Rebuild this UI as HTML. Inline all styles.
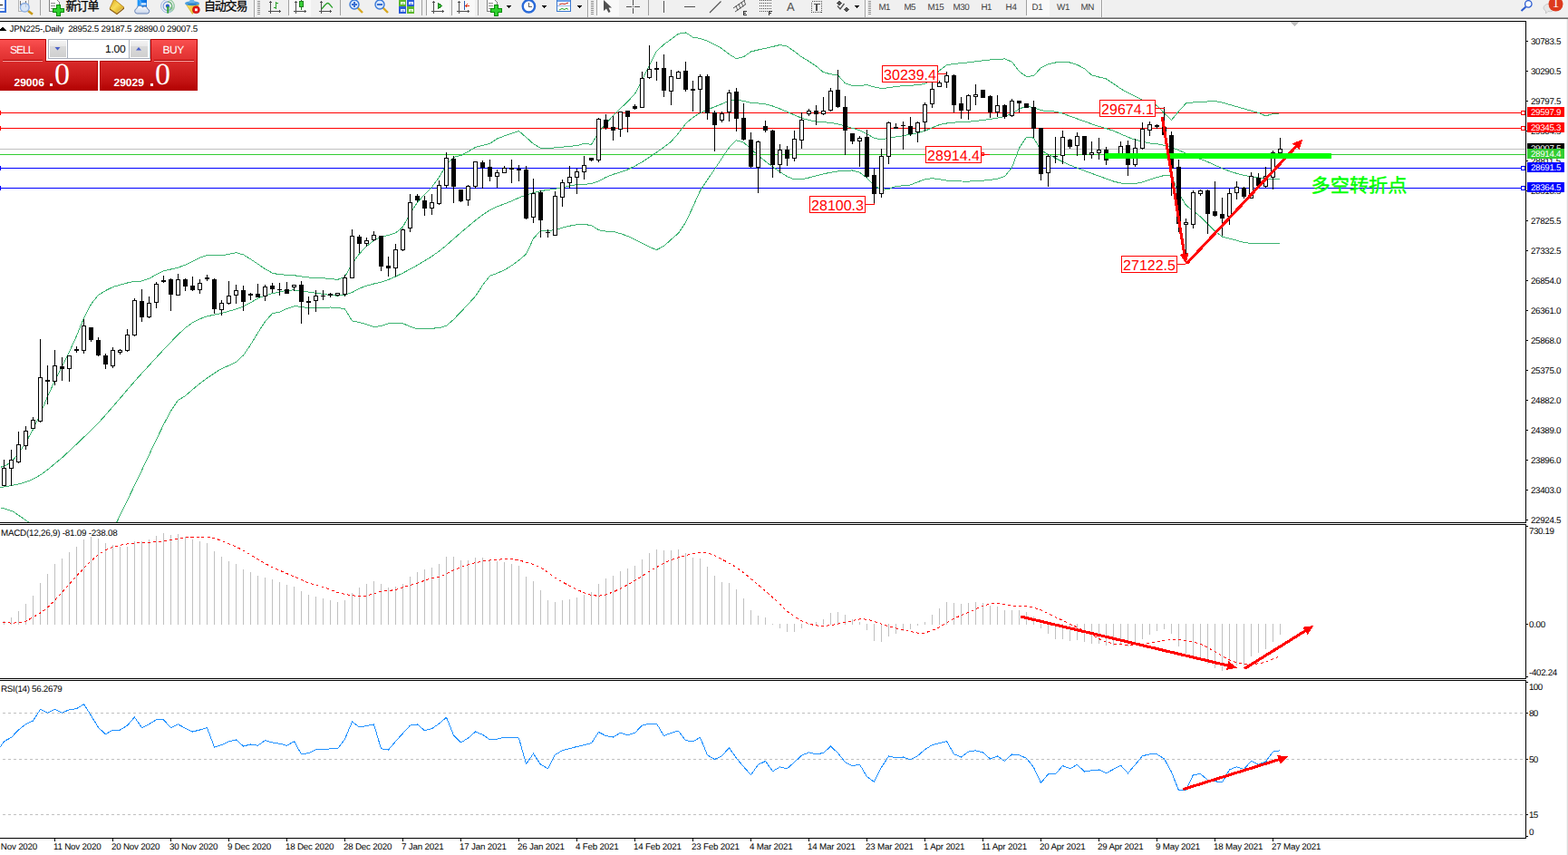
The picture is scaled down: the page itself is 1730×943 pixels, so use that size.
<!DOCTYPE html>
<html><head><meta charset="utf-8"><title>JPN225 Daily</title>
<style>
html,body{margin:0;padding:0;background:#fff;}
body{width:1730px;height:943px;overflow:hidden;position:relative;font-family:"Liberation Sans",sans-serif;}
.abs{position:absolute;left:0;top:0;}
.t{position:absolute;white-space:nowrap;font-family:"Liberation Sans",sans-serif;text-rendering:geometricPrecision;}
.title{letter-spacing:0px;}
</style></head><body>
<svg class="abs" width="1730" height="943" viewBox="0 0 1730 943" shape-rendering="crispEdges"><defs><clipPath id="mainclip"><rect x="0" y="24" width="1683" height="552"/></clipPath></defs><g fill="#000"><rect x="0" y="23" width="1684" height="1"/><rect x="0" y="576" width="1684" height="1"/><rect x="0" y="578" width="1684" height="1"/><rect x="0" y="748" width="1684" height="1"/><rect x="0" y="750" width="1684" height="1"/><rect x="0" y="924" width="1684" height="1"/><rect x="1683" y="23" width="1" height="554"/><rect x="1683" y="578" width="1" height="171"/><rect x="1683" y="750" width="1" height="175"/><rect x="1684" y="45" width="2" height="1"/><rect x="1684" y="78" width="2" height="1"/><rect x="1684" y="111" width="2" height="1"/><rect x="1684" y="144" width="2" height="1"/><rect x="1684" y="177" width="2" height="1"/><rect x="1684" y="210" width="2" height="1"/><rect x="1684" y="243" width="2" height="1"/><rect x="1684" y="276" width="2" height="1"/><rect x="1684" y="309" width="2" height="1"/><rect x="1684" y="342" width="2" height="1"/><rect x="1684" y="375" width="2" height="1"/><rect x="1684" y="408" width="2" height="1"/><rect x="1684" y="441" width="2" height="1"/><rect x="1684" y="474" width="2" height="1"/><rect x="1684" y="507" width="2" height="1"/><rect x="1684" y="540" width="2" height="1"/><rect x="1684" y="573" width="2" height="1"/><rect x="1684" y="580" width="2" height="1"/><rect x="1684" y="688" width="2" height="1"/><rect x="1684" y="746" width="2" height="1"/><rect x="1684" y="752" width="2" height="1"/><rect x="1684" y="786" width="2" height="1"/><rect x="1684" y="837" width="2" height="1"/><rect x="1684" y="898" width="2" height="1"/><rect x="1684" y="922" width="2" height="1"/><rect x="60" y="925" width="1" height="3"/><rect x="124" y="925" width="1" height="3"/><rect x="188" y="925" width="1" height="3"/><rect x="252" y="925" width="1" height="3"/><rect x="316" y="925" width="1" height="3"/><rect x="380" y="925" width="1" height="3"/><rect x="444" y="925" width="1" height="3"/><rect x="508" y="925" width="1" height="3"/><rect x="572" y="925" width="1" height="3"/><rect x="636" y="925" width="1" height="3"/><rect x="700" y="925" width="1" height="3"/><rect x="764" y="925" width="1" height="3"/><rect x="828" y="925" width="1" height="3"/><rect x="892" y="925" width="1" height="3"/><rect x="956" y="925" width="1" height="3"/><rect x="1020" y="925" width="1" height="3"/><rect x="1084" y="925" width="1" height="3"/><rect x="1148" y="925" width="1" height="3"/><rect x="1212" y="925" width="1" height="3"/><rect x="1276" y="925" width="1" height="3"/><rect x="1340" y="925" width="1" height="3"/><rect x="1404" y="925" width="1" height="3"/></g><path d="M1423 24 L1433 24 L1428 29 Z" fill="#c0c0c0"/><rect x="0" y="124" width="1683" height="1" fill="#ff0000"/><rect x="0" y="141" width="1683" height="1" fill="#ff0000"/><rect x="0" y="164" width="1683" height="1" fill="#c0c0c0"/><rect x="0" y="170" width="1683" height="1" fill="#32cd32"/><rect x="0" y="185" width="1683" height="1" fill="#0000ff"/><rect x="0" y="207" width="1683" height="1" fill="#0000ff"/><rect x="0" y="122" width="1" height="5" fill="#ff0000"/><rect x="1678.5" y="122.5" width="4" height="4" fill="#fff" stroke="#ff0000" stroke-width="1"/><rect x="0" y="139" width="1" height="5" fill="#ff0000"/><rect x="1678.5" y="139.5" width="4" height="4" fill="#fff" stroke="#ff0000" stroke-width="1"/><rect x="0" y="183" width="1" height="5" fill="#0000ff"/><rect x="1678.5" y="183.5" width="4" height="4" fill="#fff" stroke="#0000ff" stroke-width="1"/><rect x="0" y="205" width="1" height="5" fill="#0000ff"/><rect x="1678.5" y="205.5" width="4" height="4" fill="#fff" stroke="#0000ff" stroke-width="1"/><g clip-path="url(#mainclip)"><polyline points="0.5,515.2 4.5,514.4 12.5,509.6 20.5,500 28.5,488 36.5,473.5 44.5,456.3 52.5,437.4 60.5,419.8 68.5,403.9 76.5,388.1 84.5,370.4 92.5,350.9 100.5,335.5 108.5,325.4 116.5,320.5 124.5,316.6 132.5,314.1 140.5,312 148.5,310.3 156.5,310 164.5,307.3 172.5,302.7 180.5,298.9 188.5,297 196.5,295.2 204.5,292.1 212.5,288.1 220.5,284.2 228.5,281.6 236.5,281.3 244.5,281.8 252.5,280.3 260.5,278.7 268.5,280.9 276.5,285.8 284.5,291.2 292.5,296.6 300.5,301.2 308.5,302.8 316.5,303.2 324.5,303.7 332.5,304.9 340.5,306 348.5,306.5 356.5,306.8 364.5,307.5 372.5,308.4 380.5,305.3 388.5,290.8 396.5,279.9 404.5,271.6 412.5,265.3 420.5,261 428.5,259.5 436.5,256.9 444.5,250.3 452.5,235.4 460.5,223.2 468.5,214.5 476.5,206.4 484.5,195.4 492.5,181.9 500.5,173.3 508.5,171.5 516.5,167.1 524.5,162.5 532.5,160.4 540.5,158.5 548.5,153 556.5,149.9 564.5,147.3 572.5,144.5 580.5,151.5 588.5,158.6 596.5,163.4 604.5,163.4 612.5,162.9 620.5,162.2 628.5,161.4 636.5,160.6 644.5,158.4 652.5,159.3 660.5,146.2 668.5,136 676.5,127.7 684.5,119.7 692.5,112 700.5,103.6 708.5,88.1 716.5,71.8 724.5,56.4 732.5,49.1 740.5,43.2 748.5,37.2 756.5,36 764.5,41.1 772.5,42.5 780.5,45.1 788.5,49.1 796.5,53.6 804.5,59.9 812.5,64.7 820.5,62.7 828.5,57 836.5,55 844.5,53.4 852.5,51.5 860.5,49.5 868.5,51.1 876.5,56.8 884.5,62.9 892.5,67.6 900.5,73 908.5,79.7 916.5,81.8 924.5,82.9 932.5,91.9 940.5,94.6 948.5,94.5 956.5,93.6 964.5,95.9 972.5,97.6 980.5,96.7 988.5,95.5 996.5,94.7 1004.5,94.2 1012.5,93.8 1020.5,92.4 1028.5,87.1 1036.5,77.7 1044.5,71.7 1052.5,70.4 1060.5,69.7 1068.5,68.8 1076.5,67.8 1084.5,66.8 1092.5,66 1100.5,65.8 1108.5,64.8 1116.5,68.3 1124.5,78.8 1132.5,84.4 1140.5,83.7 1148.5,74.7 1156.5,70.8 1164.5,69 1172.5,68.4 1180.5,69 1188.5,71.4 1196.5,75.8 1204.5,82.8 1212.5,85 1220.5,86.9 1228.5,92.3 1236.5,97.9 1244.5,102.3 1252.5,106.4 1260.5,110.3 1268.5,113 1276.5,116.4 1284.5,124.9 1292.5,132.4 1300.5,122.8 1308.5,114 1316.5,112.9 1324.5,113 1332.5,111.9 1340.5,111.4 1348.5,113.1 1356.5,115.4 1364.5,117.7 1372.5,119.9 1380.5,122.2 1388.5,124.4 1396.5,127.9 1404.5,125.5 1411.5,125.7" fill="none" stroke="#3cb371" stroke-width="1" /><polyline points="0.5,537.5 4.5,537 12.5,535.6 20.5,533.9 28.5,531.7 36.5,528.5 44.5,523.9 52.5,518 60.5,511.5 68.5,504.8 76.5,497.4 84.5,489.9 92.5,482.2 100.5,474.5 108.5,466.6 116.5,457.7 124.5,448.5 132.5,439.3 140.5,429.9 148.5,420.6 156.5,411.7 164.5,403 172.5,394.3 180.5,385.7 188.5,377.3 196.5,369 204.5,361.6 212.5,355.9 220.5,351.7 228.5,348.9 236.5,347.1 244.5,345.5 252.5,343.3 260.5,340.8 268.5,338 276.5,333.8 284.5,329.2 292.5,325.9 300.5,323.7 308.5,321.9 316.5,320.3 324.5,319.9 332.5,321 340.5,322.1 348.5,323.3 356.5,324.4 364.5,325.5 372.5,326.2 380.5,325.4 388.5,322.5 396.5,318.2 404.5,315.1 412.5,313 420.5,311.1 428.5,308.4 436.5,305 444.5,301.1 452.5,296.9 460.5,292.5 468.5,287.7 476.5,282.7 484.5,277 492.5,270.6 500.5,263.5 508.5,256.5 516.5,249.7 524.5,243.1 532.5,236.9 540.5,231.7 548.5,227.8 556.5,224.9 564.5,221.7 572.5,218.1 580.5,215 588.5,212.5 596.5,210.6 604.5,209.4 612.5,208.3 620.5,206.9 628.5,205.1 636.5,203.6 644.5,203.3 652.5,202.7 660.5,199.8 668.5,195.5 676.5,192.3 684.5,189.9 692.5,187 700.5,183.1 708.5,178.6 716.5,173.4 724.5,168 732.5,162.4 740.5,156.2 748.5,147 756.5,136.4 764.5,129.6 772.5,124.5 780.5,121 788.5,117.8 796.5,114.6 804.5,111.2 812.5,109.9 820.5,111.4 828.5,113.3 836.5,114 844.5,114.9 852.5,117 860.5,120 868.5,123.3 876.5,126.9 884.5,130.2 892.5,132.5 900.5,134.1 908.5,134.8 916.5,135.3 924.5,136.8 932.5,139.1 940.5,141.4 948.5,143.7 956.5,147.7 964.5,152.3 972.5,153.8 980.5,152.5 988.5,151 996.5,149.7 1004.5,148.3 1012.5,146.6 1020.5,144.4 1028.5,140.8 1036.5,137.6 1044.5,136 1052.5,135.1 1060.5,134.7 1068.5,134.3 1076.5,133.5 1084.5,132.5 1092.5,131.4 1100.5,130.1 1108.5,128.4 1116.5,125.5 1124.5,120.1 1132.5,117.2 1140.5,118.6 1148.5,121.6 1156.5,122.7 1164.5,123.1 1172.5,125.1 1180.5,128.1 1188.5,131 1196.5,133.9 1204.5,136.7 1212.5,139.4 1220.5,141.7 1228.5,144.3 1236.5,147.7 1244.5,151.3 1252.5,154.1 1260.5,156.3 1268.5,158 1276.5,158.8 1284.5,160.2 1292.5,162.7 1300.5,165.7 1308.5,169.1 1316.5,172.3 1324.5,175.4 1332.5,178.5 1340.5,182.2 1348.5,185.7 1356.5,188.8 1364.5,191.3 1372.5,193.3 1380.5,194.8 1388.5,196 1396.5,196.8 1404.5,197.4 1411.5,197.8" fill="none" stroke="#3cb371" stroke-width="1" /><polyline points="0.5,559.8 13.8,563.7 32.3,576.5" fill="none" stroke="#3cb371" stroke-width="1" /><polyline points="128.5,576.5 132.5,568.3 140.5,551.9 148.5,535.3 156.5,518.6 164.5,501.7 172.5,484.8 180.5,468.3 188.5,453.3 196.5,441.3 204.5,436.6 212.5,429.6 220.5,422.9 228.5,417 236.5,411.6 244.5,406.6 252.5,403.2 260.5,399.4 268.5,391.9 276.5,380.2 284.5,367 292.5,354.7 300.5,345.7 308.5,344.1 316.5,340.5 324.5,337.7 332.5,338.3 340.5,339.8 348.5,339.9 356.5,339.4 364.5,339 372.5,339.4 380.5,340.8 388.5,354 396.5,355.5 404.5,357.7 412.5,360.5 420.5,359.6 428.5,356.9 436.5,356.2 444.5,356.7 452.5,360.2 460.5,362.9 468.5,362.8 476.5,362.2 484.5,361.7 492.5,359.2 500.5,352.4 508.5,344 516.5,335.5 524.5,326.7 532.5,314.6 540.5,304.2 548.5,301.4 556.5,297.8 564.5,292.9 572.5,287.1 580.5,280.2 588.5,263.2 596.5,254.2 604.5,254.5 612.5,253.6 620.5,251.1 628.5,249.2 636.5,247.7 644.5,247.4 652.5,248.6 660.5,253.7 668.5,255.1 676.5,255.4 684.5,257.6 692.5,260.4 700.5,264.1 708.5,268.3 716.5,272.4 724.5,275.6 732.5,271.3 740.5,264.2 748.5,257.1 756.5,245.4 764.5,228.2 772.5,210.4 780.5,198.4 788.5,186.5 796.5,174.5 804.5,162.7 812.5,154.8 820.5,157.1 828.5,164.3 836.5,171.5 844.5,177.9 852.5,184 860.5,189.5 868.5,194.7 876.5,197.9 884.5,197.7 892.5,196 900.5,193.9 908.5,191.8 916.5,190.2 924.5,189 932.5,188.1 940.5,188 948.5,190.1 956.5,196.3 964.5,204.6 972.5,209.4 980.5,208.5 988.5,205.3 996.5,204.9 1004.5,204 1012.5,200.7 1020.5,197.9 1028.5,196.7 1036.5,197.7 1044.5,199.1 1052.5,199.7 1060.5,200 1068.5,200.1 1076.5,199.7 1084.5,199.1 1092.5,198.4 1100.5,197.1 1108.5,194.6 1116.5,184.7 1124.5,163.4 1132.5,151.3 1140.5,152.1 1148.5,165.8 1156.5,170.2 1164.5,174.5 1172.5,178.5 1180.5,182.1 1188.5,185.3 1196.5,188.3 1204.5,191.3 1212.5,194.2 1220.5,197.1 1228.5,200 1236.5,202 1244.5,202.8 1252.5,202.6 1260.5,200.9 1268.5,198.2 1276.5,195.6 1284.5,193.5 1292.5,194 1300.5,212.9 1308.5,226.3 1316.5,232.7 1324.5,239 1332.5,247 1340.5,255 1348.5,261.1 1356.5,263.1 1364.5,265.1 1372.5,267.6 1380.5,268.3 1388.5,268.6 1396.5,268.8 1404.5,268.9 1411.5,268.9" fill="none" stroke="#3cb371" stroke-width="1" /></g><path d="M4 507h1v29h-1zM12 496h1v40h-1zM20 476h1v35h-1zM28 470h1v26h-1zM36 460h1v13h-1zM44 374h1v92h-1zM52 403h1v43h-1zM60 386h1v39h-1zM68 394h1v26h-1zM76 392h1v29h-1zM84 382h1v7h-1zM92 352h1v38h-1zM100 361h1v16h-1zM108 372h1v21h-1zM116 390h1v17h-1zM124 383h1v23h-1zM132 385h1v6h-1zM140 363h1v25h-1zM148 329h1v42h-1zM156 319h1v36h-1zM164 327h1v24h-1zM172 311h1v29h-1zM180 304h1v8h-1zM188 307h1v36h-1zM196 302h1v24h-1zM204 307h1v14h-1zM212 305h1v16h-1zM220 308h1v16h-1zM228 303h1v7h-1zM236 307h1v39h-1zM244 331h1v17h-1zM252 310h1v26h-1zM260 314h1v21h-1zM268 315h1v28h-1zM276 323h1v8h-1zM284 313h1v15h-1zM292 314h1v18h-1zM300 312h1v11h-1zM308 312h1v14h-1zM316 311h1v13h-1zM324 314h1v7h-1zM332 310h1v47h-1zM340 327h1v20h-1zM348 320h1v24h-1zM356 320h1v11h-1zM364 323h1v5h-1zM372 323h1v4h-1zM380 303h1v24h-1zM388 253h1v54h-1zM396 259h1v20h-1zM404 262h1v10h-1zM412 255h1v11h-1zM420 260h1v39h-1zM428 283h1v22h-1zM436 269h1v36h-1zM444 252h1v25h-1zM452 214h1v42h-1zM460 214h1v9h-1zM468 216h1v22h-1zM476 214h1v23h-1zM484 199h1v27h-1zM492 168h1v39h-1zM500 172h1v52h-1zM508 209h1v14h-1zM516 204h1v23h-1zM524 178h1v30h-1zM532 177h1v31h-1zM540 176h1v24h-1zM548 187h1v20h-1zM556 183h1v8h-1zM564 176h1v26h-1zM572 182h1v18h-1zM580 183h1v59h-1zM588 197h1v49h-1zM596 210h1v52h-1zM604 253h1v9h-1zM612 211h1v49h-1zM620 198h1v30h-1zM628 183h1v25h-1zM636 186h1v28h-1zM644 172h1v26h-1zM652 174h1v4h-1zM660 130h1v49h-1zM668 126h1v17h-1zM676 128h1v27h-1zM684 123h1v28h-1zM692 122h1v24h-1zM700 115h1v6h-1zM708 79h1v40h-1zM716 50h1v37h-1zM724 68h1v21h-1zM732 60h1v47h-1zM740 77h1v39h-1zM748 78h1v9h-1zM756 68h1v33h-1zM764 89h1v34h-1zM772 82h1v43h-1zM780 82h1v50h-1zM788 122h1v45h-1zM796 123h1v12h-1zM804 99h1v35h-1zM812 97h1v48h-1zM820 114h1v41h-1zM828 146h1v39h-1zM836 155h1v58h-1zM844 133h1v13h-1zM852 143h1v53h-1zM860 159h1v32h-1zM868 161h1v22h-1zM876 144h1v34h-1zM884 124h1v40h-1zM892 120h1v8h-1zM900 116h1v22h-1zM908 107h1v20h-1zM916 97h1v26h-1zM924 77h1v42h-1zM932 106h1v65h-1zM940 147h1v12h-1zM948 150h1v34h-1zM956 143h1v53h-1zM964 186h1v39h-1zM972 164h1v54h-1zM980 134h1v47h-1zM988 136h1v6h-1zM996 134h1v31h-1zM1004 129h1v21h-1zM1012 134h1v23h-1zM1020 113h1v32h-1zM1028 91h1v28h-1zM1036 89h1v7h-1zM1044 79h1v18h-1zM1052 82h1v42h-1zM1060 107h1v24h-1zM1068 104h1v28h-1zM1076 93h1v23h-1zM1084 99h1v9h-1zM1092 105h1v25h-1zM1100 105h1v24h-1zM1108 115h1v16h-1zM1116 109h1v20h-1zM1124 111h1v13h-1zM1132 114h1v5h-1zM1140 111h1v41h-1zM1148 141h1v58h-1zM1156 170h1v36h-1zM1164 151h1v29h-1zM1172 144h1v37h-1zM1180 153h1v11h-1zM1188 146h1v26h-1zM1196 150h1v27h-1zM1204 156h1v19h-1zM1212 152h1v24h-1zM1220 162h1v20h-1zM1228 170h1v4h-1zM1236 156h1v19h-1zM1244 155h1v39h-1zM1252 153h1v31h-1zM1260 135h1v30h-1zM1268 134h1v16h-1zM1276 137h1v5h-1zM1284 118h1v31h-1zM1292 145h1v71h-1zM1300 176h1v80h-1zM1308 241h1v49h-1zM1316 210h1v42h-1zM1324 209h1v7h-1zM1332 209h1v49h-1zM1340 200h1v39h-1zM1348 218h1v42h-1zM1356 208h1v40h-1zM1364 200h1v20h-1zM1372 206h1v13h-1zM1380 190h1v29h-1zM1388 191h1v17h-1zM1396 184h1v23h-1zM1404 166h1v43h-1zM1412 152h1v17h-1z" fill="#000"/><path d="M2 516h5v20h-5zM10 507h5v10h-5zM18 490h5v20h-5zM26 475h5v17h-5zM34 463h5v10h-5zM42 416h5v49h-5zM50 419h5v2h-5zM58 403h5v18h-5zM66 404h5v3h-5zM74 392h5v15h-5zM82 385h5v2h-5zM90 359h5v28h-5zM98 361h5v14h-5zM106 375h5v17h-5zM114 392h5v10h-5zM122 386h5v18h-5zM130 386h5v3h-5zM138 369h5v18h-5zM146 331h5v39h-5zM154 332h5v18h-5zM162 334h5v16h-5zM170 313h5v21h-5zM178 309h5v2h-5zM186 308h5v17h-5zM194 308h5v18h-5zM202 308h5v8h-5zM210 315h5v5h-5zM218 312h5v8h-5zM226 306h5v2h-5zM234 308h5v33h-5zM242 334h5v8h-5zM250 326h5v9h-5zM258 320h5v6h-5zM266 320h5v13h-5zM274 324h5v2h-5zM282 324h5v4h-5zM290 316h5v11h-5zM298 315h5v4h-5zM306 319h5v1h-5zM314 319h5v5h-5zM322 314h5v3h-5zM330 314h5v19h-5zM338 332h5v2h-5zM346 326h5v6h-5zM354 326h5v1h-5zM362 324h5v2h-5zM370 323h5v3h-5zM378 306h5v19h-5zM386 260h5v47h-5zM394 261h5v8h-5zM402 265h5v4h-5zM410 259h5v6h-5zM418 260h5v34h-5zM426 293h5v3h-5zM434 275h5v21h-5zM442 253h5v23h-5zM450 223h5v29h-5zM458 216h5v5h-5zM466 221h5v9h-5zM474 223h5v7h-5zM482 204h5v21h-5zM490 174h5v31h-5zM498 175h5v31h-5zM506 209h5v13h-5zM514 205h5v16h-5zM522 178h5v28h-5zM530 179h5v6h-5zM538 184h5v11h-5zM546 190h5v5h-5zM554 185h5v6h-5zM562 185h5v2h-5zM570 186h5v2h-5zM578 187h5v54h-5zM586 213h5v27h-5zM594 212h5v31h-5zM602 256h5v1h-5zM610 216h5v44h-5zM618 201h5v17h-5zM626 195h5v7h-5zM634 189h5v7h-5zM642 182h5v8h-5zM650 174h5v3h-5zM658 131h5v46h-5zM666 132h5v9h-5zM674 140h5v4h-5zM682 123h5v20h-5zM690 122h5v7h-5zM698 117h5v3h-5zM706 86h5v33h-5zM714 76h5v10h-5zM722 75h5v2h-5zM730 75h5v25h-5zM738 84h5v17h-5zM746 79h5v8h-5zM754 78h5v21h-5zM762 98h5v2h-5zM770 84h5v15h-5zM778 84h5v41h-5zM786 124h5v14h-5zM794 125h5v8h-5zM802 102h5v22h-5zM810 101h5v30h-5zM818 130h5v24h-5zM826 154h5v30h-5zM834 156h5v29h-5zM842 139h5v5h-5zM850 144h5v38h-5zM858 165h5v17h-5zM866 165h5v10h-5zM874 153h5v22h-5zM882 132h5v23h-5zM890 122h5v4h-5zM898 122h5v4h-5zM906 122h5v4h-5zM914 100h5v22h-5zM922 99h5v19h-5zM930 118h5v26h-5zM938 147h5v9h-5zM946 152h5v4h-5zM954 151h5v44h-5zM962 193h5v21h-5zM970 172h5v42h-5zM978 135h5v38h-5zM986 140h5v2h-5zM994 138h5v1h-5zM1002 139h5v9h-5zM1010 135h5v11h-5zM1018 115h5v20h-5zM1026 98h5v17h-5zM1034 91h5v5h-5zM1042 83h5v8h-5zM1050 83h5v33h-5zM1058 114h5v8h-5zM1066 105h5v17h-5zM1074 104h5v3h-5zM1082 99h5v9h-5zM1090 106h5v18h-5zM1098 116h5v8h-5zM1106 116h5v13h-5zM1114 111h5v17h-5zM1122 111h5v3h-5zM1130 114h5v5h-5zM1138 118h5v24h-5zM1146 141h5v51h-5zM1154 172h5v19h-5zM1162 172h5v1h-5zM1170 151h5v21h-5zM1178 154h5v8h-5zM1186 150h5v11h-5zM1194 150h5v21h-5zM1202 168h5v3h-5zM1210 165h5v4h-5zM1218 165h5v12h-5zM1226 170h5v2h-5zM1234 161h5v12h-5zM1242 160h5v22h-5zM1250 163h5v19h-5zM1258 142h5v22h-5zM1266 137h5v7h-5zM1274 138h5v2h-5zM1282 140h5v9h-5zM1290 149h5v37h-5zM1298 184h5v63h-5zM1306 245h5v3h-5zM1314 212h5v36h-5zM1322 210h5v4h-5zM1330 210h5v26h-5zM1338 233h5v5h-5zM1346 236h5v5h-5zM1354 213h5v26h-5zM1362 206h5v7h-5zM1370 207h5v10h-5zM1378 194h5v25h-5zM1386 196h5v9h-5zM1394 194h5v12h-5zM1402 168h5v28h-5zM1410 164h5v5h-5z" fill="#000"/><path d="M3 517h3v18h-3zM11 508h3v8h-3zM19 491h3v18h-3zM27 476h3v15h-3zM35 464h3v8h-3zM43 417h3v47h-3zM59 404h3v16h-3zM75 393h3v13h-3zM91 360h3v26h-3zM123 387h3v16h-3zM131 387h3v1h-3zM139 370h3v16h-3zM147 332h3v37h-3zM163 335h3v14h-3zM171 314h3v19h-3zM195 309h3v16h-3zM219 313h3v6h-3zM243 335h3v6h-3zM251 327h3v7h-3zM259 321h3v4h-3zM291 317h3v9h-3zM323 315h3v1h-3zM347 327h3v4h-3zM371 324h3v1h-3zM379 307h3v17h-3zM387 261h3v45h-3zM403 266h3v2h-3zM411 260h3v4h-3zM435 276h3v19h-3zM443 254h3v21h-3zM451 224h3v27h-3zM475 224h3v5h-3zM483 205h3v19h-3zM491 175h3v29h-3zM515 206h3v14h-3zM523 179h3v26h-3zM547 191h3v3h-3zM555 186h3v4h-3zM587 214h3v25h-3zM611 217h3v42h-3zM619 202h3v15h-3zM627 196h3v5h-3zM635 190h3v5h-3zM643 183h3v6h-3zM659 132h3v44h-3zM683 124h3v18h-3zM707 87h3v31h-3zM715 77h3v8h-3zM739 85h3v15h-3zM747 80h3v6h-3zM771 85h3v13h-3zM795 126h3v6h-3zM803 103h3v20h-3zM835 157h3v27h-3zM859 166h3v15h-3zM875 154h3v20h-3zM883 133h3v21h-3zM891 123h3v2h-3zM907 123h3v2h-3zM915 101h3v20h-3zM947 153h3v2h-3zM971 173h3v40h-3zM979 136h3v36h-3zM1011 136h3v9h-3zM1019 116h3v18h-3zM1027 99h3v15h-3zM1035 92h3v3h-3zM1043 84h3v6h-3zM1067 106h3v15h-3zM1075 105h3v1h-3zM1099 117h3v6h-3zM1115 112h3v15h-3zM1155 173h3v17h-3zM1171 152h3v19h-3zM1187 151h3v9h-3zM1203 169h3v1h-3zM1211 166h3v2h-3zM1235 162h3v10h-3zM1251 164h3v17h-3zM1259 143h3v20h-3zM1267 138h3v5h-3zM1307 246h3v1h-3zM1315 213h3v34h-3zM1323 211h3v2h-3zM1355 214h3v24h-3zM1363 207h3v5h-3zM1379 195h3v23h-3zM1395 195h3v10h-3zM1403 169h3v26h-3zM1411 165h3v3h-3z" fill="#fff"/><rect x="973.5" y="72.5" width="61" height="18" fill="#fff" stroke="#ff0000" stroke-width="1"/><path d="M1035 81.5H1044" fill="none" stroke="#ff0000" stroke-width="1"/><rect x="1021.5" y="161.5" width="61" height="18" fill="#fff" stroke="#ff0000" stroke-width="1"/><path d="M1083 170.5H1092 M1083.5 168.5h2v3h-2z" fill="none" stroke="#ff0000" stroke-width="1"/><rect x="893.5" y="216.5" width="61" height="18" fill="#fff" stroke="#ff0000" stroke-width="1"/><path d="M955 225.5H964.5V224" fill="none" stroke="#ff0000" stroke-width="1"/><rect x="1213.5" y="110.5" width="61" height="18" fill="#fff" stroke="#ff0000" stroke-width="1"/><path d="M1275 119.5H1284.5" fill="none" stroke="#ff0000" stroke-width="1"/><rect x="1237.5" y="282.5" width="61" height="18" fill="#fff" stroke="#ff0000" stroke-width="1"/><path d="M1299 291.5H1308" fill="none" stroke="#ff0000" stroke-width="1"/><path d="M2 30h2v1h-2zM1 31h4v1h-4zM0 32h6v1h-6zM0 33h7v1h-7z" fill="#000"/><path d="M4 685h1v4h-1zM12 681h1v8h-1zM20 674h1v15h-1zM28 666h1v23h-1zM36 657h1v32h-1zM44 643h1v46h-1zM52 633h1v56h-1zM60 622h1v67h-1zM68 616h1v73h-1zM76 609h1v80h-1zM84 603h1v86h-1zM92 595h1v94h-1zM100 592h1v97h-1zM108 594h1v95h-1zM116 599h1v90h-1zM124 601h1v88h-1zM132 603h1v86h-1zM140 603h1v86h-1zM148 597h1v92h-1zM156 597h1v92h-1zM164 595h1v94h-1zM172 591h1v98h-1zM180 588h1v101h-1zM188 590h1v99h-1zM196 589h1v100h-1zM204 592h1v97h-1zM212 595h1v94h-1zM220 597h1v92h-1zM228 599h1v90h-1zM236 608h1v81h-1zM244 614h1v75h-1zM252 619h1v70h-1zM260 622h1v67h-1zM268 628h1v61h-1zM276 631h1v58h-1zM284 635h1v54h-1zM292 637h1v52h-1zM300 639h1v50h-1zM308 642h1v47h-1zM316 645h1v44h-1zM324 647h1v42h-1zM332 652h1v37h-1zM340 656h1v33h-1zM348 658h1v31h-1zM356 660h1v29h-1zM364 662h1v27h-1zM372 664h1v25h-1zM380 662h1v27h-1zM388 654h1v35h-1zM396 648h1v41h-1zM404 644h1v45h-1zM412 641h1v48h-1zM420 644h1v45h-1zM428 648h1v41h-1zM436 647h1v42h-1zM444 644h1v45h-1zM452 636h1v53h-1zM460 631h1v58h-1zM468 628h1v61h-1zM476 626h1v63h-1zM484 622h1v67h-1zM492 614h1v75h-1zM500 614h1v75h-1zM508 618h1v71h-1zM516 618h1v71h-1zM524 615h1v74h-1zM532 615h1v74h-1zM540 618h1v71h-1zM548 619h1v70h-1zM556 620h1v69h-1zM564 622h1v67h-1zM572 624h1v65h-1zM580 636h1v53h-1zM588 641h1v48h-1zM596 651h1v38h-1zM604 662h1v27h-1zM612 664h1v25h-1zM620 662h1v27h-1zM628 661h1v28h-1zM636 659h1v30h-1zM644 656h1v33h-1zM652 653h1v36h-1zM660 644h1v45h-1zM668 638h1v51h-1zM676 635h1v54h-1zM684 630h1v59h-1zM692 627h1v62h-1zM700 624h1v65h-1zM708 617h1v72h-1zM716 610h1v79h-1zM724 606h1v83h-1zM732 607h1v82h-1zM740 607h1v82h-1zM748 606h1v83h-1zM756 610h1v79h-1zM764 615h1v74h-1zM772 616h1v73h-1zM780 625h1v64h-1zM788 635h1v54h-1zM796 642h1v47h-1zM804 643h1v46h-1zM812 650h1v39h-1zM820 660h1v29h-1zM828 673h1v16h-1zM836 679h1v10h-1zM844 681h1v8h-1zM852 688h1v1h-1zM860 688h1v5h-1zM868 688h1v9h-1zM876 688h1v9h-1zM884 688h1v5h-1zM892 688h1v1h-1zM900 686h1v3h-1zM908 683h1v6h-1zM916 676h1v13h-1zM924 675h1v14h-1zM932 678h1v11h-1zM940 683h1v6h-1zM948 686h1v3h-1zM956 688h1v7h-1zM964 688h1v19h-1zM972 688h1v20h-1zM980 688h1v14h-1zM988 688h1v11h-1zM996 688h1v8h-1zM1004 688h1v6h-1zM1012 688h1v2h-1zM1020 686h1v3h-1zM1028 678h1v11h-1zM1036 671h1v18h-1zM1044 664h1v25h-1zM1052 665h1v24h-1zM1060 666h1v23h-1zM1068 665h1v24h-1zM1076 664h1v25h-1zM1084 665h1v24h-1zM1092 668h1v21h-1zM1100 669h1v20h-1zM1108 673h1v16h-1zM1116 673h1v16h-1zM1124 673h1v16h-1zM1132 675h1v14h-1zM1140 680h1v9h-1zM1148 688h1v5h-1zM1156 688h1v11h-1zM1164 688h1v17h-1zM1172 688h1v17h-1zM1180 688h1v19h-1zM1188 688h1v18h-1zM1196 688h1v20h-1zM1204 688h1v22h-1zM1212 688h1v22h-1zM1220 688h1v24h-1zM1228 688h1v24h-1zM1236 688h1v23h-1zM1244 688h1v25h-1zM1252 688h1v23h-1zM1260 688h1v17h-1zM1268 688h1v12h-1zM1276 688h1v8h-1zM1284 688h1v6h-1zM1292 688h1v11h-1zM1300 688h1v25h-1zM1308 688h1v33h-1zM1316 688h1v39h-1zM1324 688h1v41h-1zM1332 688h1v44h-1zM1340 688h1v49h-1zM1348 688h1v52h-1zM1356 688h1v47h-1zM1364 688h1v46h-1zM1372 688h1v46h-1zM1380 688h1v36h-1zM1388 688h1v32h-1zM1396 688h1v28h-1zM1404 688h1v20h-1zM1412 688h1v12h-1z" fill="#c0c0c0"/><polyline points="3,686.4 4.5,686.6 12.5,687.1 20.5,686.9 28.5,685.1 36.5,680.8 44.5,676.1 52.5,670.2 60.5,661.9 68.5,653 76.5,644.1 84.5,635.2 92.5,626.7 100.5,618.7 108.5,611.8 116.5,606.8 124.5,603.4 132.5,601.2 140.5,599.9 148.5,598.9 156.5,598.5 164.5,598.1 172.5,597.6 180.5,596.8 188.5,595.6 196.5,594.3 204.5,593 212.5,592.7 220.5,593 228.5,592.6 236.5,593.4 244.5,596.6 252.5,599.8 260.5,603 268.5,607.1 276.5,611.9 284.5,616.8 292.5,621.5 300.5,625.6 308.5,629.2 316.5,632.6 324.5,636.1 332.5,639.5 340.5,642.9 348.5,645.4 356.5,647.5 364.5,650.4 372.5,653.4 380.5,655.5 388.5,656.8 396.5,657.5 404.5,657 412.5,654.9 420.5,652.4 428.5,651.5 436.5,650.5 444.5,647.7 452.5,645.4 460.5,643.1 468.5,640.3 476.5,637.5 484.5,636.6 492.5,632.7 500.5,628.7 508.5,625.6 516.5,622.9 524.5,620.7 532.5,619 540.5,618 548.5,617.2 556.5,616.7 564.5,616.7 572.5,617.9 580.5,620.1 588.5,622.5 596.5,625.9 604.5,631.5 612.5,637.3 620.5,641.9 628.5,646.2 636.5,650.2 644.5,653.9 652.5,656.5 660.5,657.3 668.5,655.9 676.5,652.9 684.5,649.2 692.5,644.9 700.5,640.3 708.5,635.2 716.5,630.1 724.5,625.5 732.5,621.2 740.5,617.6 748.5,614.7 756.5,612.6 764.5,610.9 772.5,609.7 780.5,609.8 788.5,612.8 796.5,616.9 804.5,621.1 812.5,625.8 820.5,631.8 828.5,638.4 836.5,645.1 844.5,651.9 852.5,658.9 860.5,666.2 868.5,674.3 876.5,679.9 884.5,684.7 892.5,688.1 900.5,689.9 908.5,690.4 916.5,689.7 924.5,688.1 932.5,686.4 940.5,684.6 948.5,682.8 956.5,683.1 964.5,685.4 972.5,688.2 980.5,690.9 988.5,692.9 996.5,694.8 1004.5,696.5 1012.5,698.1 1020.5,698 1028.5,695.4 1036.5,691.6 1044.5,686.7 1052.5,682.1 1060.5,678.7 1068.5,675.3 1076.5,671.8 1084.5,668.2 1092.5,665.9 1100.5,665.5 1108.5,666.7 1116.5,668.1 1124.5,668.4 1132.5,668.8 1140.5,670.1 1148.5,672.9 1156.5,676.8 1164.5,680.6 1172.5,684.4 1180.5,688.2 1188.5,692 1196.5,695.8 1204.5,700.1 1212.5,704.6 1220.5,708 1228.5,709.9 1236.5,710.9 1244.5,711.3 1252.5,711.3 1260.5,710.9 1268.5,709.3 1276.5,707.6 1284.5,706.5 1292.5,705.7 1300.5,705.7 1308.5,706.4 1316.5,707.8 1324.5,710.4 1332.5,714.3 1340.5,718.9 1348.5,723.7 1356.5,727.8 1364.5,730.8 1372.5,732.1 1380.5,732.5 1388.5,731.9 1396.5,730.2 1404.5,726.8 1412.5,723.5 1412.6,723.5" fill="none" stroke="#ff0000" stroke-width="1" stroke-dasharray="3 3"/><line x1="3" y1="786.5" x2="1683" y2="786.5" stroke="#c0c0c0" stroke-width="1" stroke-dasharray="3 3"/><line x1="3" y1="837.5" x2="1683" y2="837.5" stroke="#c0c0c0" stroke-width="1" stroke-dasharray="3 3"/><line x1="3" y1="898.5" x2="1683" y2="898.5" stroke="#c0c0c0" stroke-width="1" stroke-dasharray="3 3"/><polyline points="0,824.3 4.5,817.7 12.5,813.4 20.5,805 28.5,798.6 36.5,795 44.5,782.3 52.5,786.1 60.5,782.3 68.5,786.1 76.5,782.8 84.5,781.6 92.5,776.7 100.5,789.2 108.5,802.4 116.5,809.8 124.5,805 132.5,805 140.5,800.1 148.5,791 156.5,802.7 164.5,798.6 172.5,793.8 180.5,793.8 188.5,802.7 196.5,798.9 204.5,803.2 212.5,807 220.5,805 228.5,802.7 236.5,824 244.5,821.7 252.5,817.7 260.5,815.9 268.5,823 276.5,821 284.5,822.3 292.5,816.7 300.5,818.9 308.5,820.2 316.5,822.3 324.5,817.7 332.5,831.9 340.5,830.6 348.5,826.8 356.5,826.8 364.5,825.8 372.5,825.8 380.5,815.1 388.5,796.1 396.5,801.9 404.5,800.6 412.5,798.9 420.5,825.8 428.5,827.1 436.5,817.7 444.5,808.8 452.5,800.1 460.5,798.9 468.5,805.7 476.5,803.7 484.5,798.1 492.5,791.2 500.5,810.8 508.5,818.9 516.5,814.1 524.5,807 532.5,810.3 540.5,815.9 548.5,815.1 556.5,813.1 564.5,813.1 572.5,814.1 580.5,842.6 588.5,831.2 596.5,843.1 604.5,847.7 612.5,832.4 620.5,827.8 628.5,825.6 636.5,823.5 644.5,821.7 652.5,819.7 660.5,807.5 668.5,811.6 676.5,813.1 684.5,808.3 692.5,810.8 700.5,808.3 708.5,800.1 716.5,798.1 724.5,798.1 732.5,811.6 740.5,808.3 748.5,806.2 756.5,816.7 764.5,817.7 772.5,813.4 780.5,832.9 788.5,837.5 796.5,833.7 804.5,824.8 812.5,836.2 820.5,845.7 828.5,854.6 836.5,843.4 844.5,839.5 852.5,850.7 860.5,845.9 868.5,847.7 876.5,840.6 884.5,833.2 892.5,829.9 900.5,831.7 908.5,830.6 916.5,823 924.5,830.6 932.5,840.6 940.5,844.6 948.5,843.1 956.5,856.6 964.5,862.4 972.5,846.4 980.5,834 988.5,835.7 996.5,835 1004.5,837.8 1012.5,833.7 1020.5,826.6 1028.5,821.7 1036.5,819.7 1044.5,817.7 1052.5,831.7 1060.5,835 1068.5,829.1 1076.5,827.8 1084.5,829.9 1092.5,837 1100.5,834 1108.5,839.5 1116.5,831.9 1124.5,832.9 1132.5,836.2 1140.5,846.4 1148.5,863.5 1156.5,853.8 1164.5,853.8 1172.5,844.6 1180.5,847.7 1188.5,843.4 1196.5,851 1204.5,849.7 1212.5,849 1220.5,852.8 1228.5,848.4 1236.5,844.1 1244.5,852.8 1252.5,843.4 1260.5,833.7 1268.5,831.9 1276.5,831.9 1284.5,836.8 1292.5,851.5 1300.5,871.8 1308.5,871.3 1316.5,854.6 1324.5,853.5 1332.5,860.4 1340.5,861.7 1348.5,862.9 1356.5,849 1364.5,845.7 1372.5,848.4 1380.5,839.3 1388.5,843.1 1396.5,840.1 1404.5,829.1 1412.5,827.8" fill="none" stroke="#1e90ff" stroke-width="1" /><text x="1446.5" y="212" font-size="21.2" fill="#00ff00" stroke="#00ff00" stroke-width="0.4" font-family="'Liberation Sans','Noto Sans CJK SC',sans-serif" style="text-rendering:geometricPrecision">多空转折点</text></svg>
<svg class="abs" width="1730" height="943" viewBox="0 0 1730 943" shape-rendering="crispEdges"><line x1="1309.5" y1="290.5" x2="1429.9" y2="161.7" stroke="#ff0000" stroke-width="3.1"/><path d="M1437.5 153.5 L1433.5 165.1 L1426.2 158.3 Z" fill="#ff0000"/><rect x="1219" y="169" width="250" height="6" fill="#00ff00" shape-rendering="crispEdges"/><line x1="1282.3" y1="129" x2="1306.7" y2="279.9" stroke="#ff0000" stroke-width="3.1"/><path d="M1308.5 291 L1301.8 280.7 L1311.6 279.1 Z" fill="#ff0000"/><line x1="1126" y1="680" x2="1354.1" y2="733.9" stroke="#ff0000" stroke-width="3.1"/><path d="M1365 736.5 L1353 738.8 L1355.3 729.1 Z" fill="#ff0000"/><line x1="1373" y1="737.5" x2="1440" y2="695.9" stroke="#ff0000" stroke-width="3.1"/><path d="M1449.5 690 L1442.6 700.2 L1437.3 691.7 Z" fill="#ff0000"/><line x1="1305.5" y1="870.5" x2="1410.8" y2="837.8" stroke="#ff0000" stroke-width="3.1"/><path d="M1421.5 834.5 L1412.3 842.6 L1409.3 833 Z" fill="#ff0000"/></svg>
<div class="t" style="left:975px;top:75px;width:58px;height:17px;line-height:17px;text-align:center;font-size:16px;color:#ff0000">30239.4</div><div class="t" style="left:1023px;top:164px;width:58px;height:17px;line-height:17px;text-align:center;font-size:16px;color:#ff0000">28914.4</div><div class="t" style="left:895px;top:219px;width:58px;height:17px;line-height:17px;text-align:center;font-size:16px;color:#ff0000">28100.3</div><div class="t" style="left:1215px;top:113px;width:58px;height:17px;line-height:17px;text-align:center;font-size:16px;color:#ff0000">29674.1</div><div class="t" style="left:1239px;top:285px;width:58px;height:17px;line-height:17px;text-align:center;font-size:16px;color:#ff0000">27122.5</div><div class="t" style="left:1689px;top:42px;font-size:9.8px;line-height:10px;color:#000;letter-spacing:-0.346px;">30783.5</div><div class="t" style="left:1689px;top:75px;font-size:9.8px;line-height:10px;color:#000;letter-spacing:-0.346px;">30290.5</div><div class="t" style="left:1689px;top:108px;font-size:9.8px;line-height:10px;color:#000;letter-spacing:-0.346px;">29797.5</div><div class="t" style="left:1689px;top:141px;font-size:9.8px;line-height:10px;color:#000;letter-spacing:-0.346px;">29304.5</div><div class="t" style="left:1689px;top:174px;font-size:9.8px;line-height:10px;color:#000;letter-spacing:-0.242px;">28811.5</div><div class="t" style="left:1689px;top:207px;font-size:9.8px;line-height:10px;color:#000;letter-spacing:-0.346px;">28318.5</div><div class="t" style="left:1689px;top:240px;font-size:9.8px;line-height:10px;color:#000;letter-spacing:-0.346px;">27825.5</div><div class="t" style="left:1689px;top:273px;font-size:9.8px;line-height:10px;color:#000;letter-spacing:-0.346px;">27332.5</div><div class="t" style="left:1689px;top:306px;font-size:9.8px;line-height:10px;color:#000;letter-spacing:-0.346px;">26854.0</div><div class="t" style="left:1689px;top:339px;font-size:9.8px;line-height:10px;color:#000;letter-spacing:-0.346px;">26361.0</div><div class="t" style="left:1689px;top:372px;font-size:9.8px;line-height:10px;color:#000;letter-spacing:-0.346px;">25868.0</div><div class="t" style="left:1689px;top:405px;font-size:9.8px;line-height:10px;color:#000;letter-spacing:-0.346px;">25375.0</div><div class="t" style="left:1689px;top:438px;font-size:9.8px;line-height:10px;color:#000;letter-spacing:-0.346px;">24882.0</div><div class="t" style="left:1689px;top:471px;font-size:9.8px;line-height:10px;color:#000;letter-spacing:-0.346px;">24389.0</div><div class="t" style="left:1689px;top:504px;font-size:9.8px;line-height:10px;color:#000;letter-spacing:-0.346px;">23896.0</div><div class="t" style="left:1689px;top:537px;font-size:9.8px;line-height:10px;color:#000;letter-spacing:-0.346px;">23403.0</div><div class="t" style="left:1689px;top:570px;font-size:9.8px;line-height:10px;color:#000;letter-spacing:-0.346px;">22924.5</div><div class="abs" style="left:1685px;top:118px;width:41px;height:11px;background:#ff0000"></div><div class="t" style="left:1689px;top:120px;font-size:9.8px;line-height:10px;color:#fff;letter-spacing:-0.346px;">29597.9</div><div class="abs" style="left:1685px;top:135px;width:41px;height:11px;background:#ff0000"></div><div class="t" style="left:1689px;top:137px;font-size:9.8px;line-height:10px;color:#fff;letter-spacing:-0.346px;">29345.3</div><div class="abs" style="left:1685px;top:158px;width:41px;height:11px;background:#000"></div><div class="t" style="left:1689px;top:160px;font-size:9.8px;line-height:10px;color:#fff;letter-spacing:-0.346px;">29007.5</div><div class="abs" style="left:1685px;top:164px;width:41px;height:11px;background:#32cd32"></div><div class="t" style="left:1689px;top:166px;font-size:9.8px;line-height:10px;color:#fff;letter-spacing:-0.346px;">28914.4</div><div class="abs" style="left:1685px;top:179px;width:41px;height:11px;background:#0000ff"></div><div class="t" style="left:1689px;top:181px;font-size:9.8px;line-height:10px;color:#fff;letter-spacing:-0.346px;">28691.5</div><div class="abs" style="left:1685px;top:201px;width:41px;height:11px;background:#0000ff"></div><div class="t" style="left:1689px;top:203px;font-size:9.8px;line-height:10px;color:#fff;letter-spacing:-0.346px;">28364.5</div><div class="t" style="left:1687px;top:582px;font-size:9.8px;line-height:10px;color:#000;letter-spacing:-0.412px;">730.19</div><div class="t" style="left:1687px;top:685px;font-size:9.8px;line-height:10px;color:#000;letter-spacing:-0.318px;">0.00</div><div class="t" style="left:1687px;top:738px;font-size:9.8px;line-height:10px;color:#000;letter-spacing:-0.320px;">-402.24</div><div class="t" style="left:1687px;top:754px;font-size:9.8px;line-height:10px;color:#000;letter-spacing:-0.617px;">100</div><div class="t" style="left:1687px;top:783px;font-size:9.8px;line-height:10px;color:#000;letter-spacing:-0.700px;">80</div><div class="t" style="left:1687px;top:834px;font-size:9.8px;line-height:10px;color:#000;letter-spacing:-0.700px;">50</div><div class="t" style="left:1687px;top:895px;font-size:9.8px;line-height:10px;color:#000;letter-spacing:-0.700px;">15</div><div class="t" style="left:1687px;top:914px;font-size:9.8px;line-height:10px;color:#000;">0</div><div class="t" style="left:10.5px;top:28px;font-size:9.8px;line-height:10px;color:#000;letter-spacing:-0.227px;">JPN225-,Daily&nbsp; 28952.5 29187.5 28890.0 29007.5</div><div class="t" style="left:1px;top:584px;font-size:9.8px;line-height:10px;color:#000;letter-spacing:-0.216px;">MACD(12,26,9) -81.09 -238.08</div><div class="t" style="left:1px;top:756px;font-size:9.8px;line-height:10px;color:#000;letter-spacing:-0.294px;">RSI(14) 56.2679</div><div class="t" style="left:-6.9px;top:930px;font-size:9.8px;line-height:10px;color:#000;letter-spacing:-0.215px;">2 Nov 2020</div><div class="t" style="left:59px;top:930px;font-size:9.8px;line-height:10px;color:#000;letter-spacing:-0.213px;">11 Nov 2020</div><div class="t" style="left:123px;top:930px;font-size:9.8px;line-height:10px;color:#000;letter-spacing:-0.216px;">20 Nov 2020</div><div class="t" style="left:187px;top:930px;font-size:9.8px;line-height:10px;color:#000;letter-spacing:-0.216px;">30 Nov 2020</div><div class="t" style="left:251px;top:930px;font-size:9.8px;line-height:10px;color:#000;letter-spacing:-0.215px;">9 Dec 2020</div><div class="t" style="left:315px;top:930px;font-size:9.8px;line-height:10px;color:#000;letter-spacing:-0.216px;">18 Dec 2020</div><div class="t" style="left:379px;top:930px;font-size:9.8px;line-height:10px;color:#000;letter-spacing:-0.216px;">28 Dec 2020</div><div class="t" style="left:443px;top:930px;font-size:9.8px;line-height:10px;color:#000;letter-spacing:-0.208px;">7 Jan 2021</div><div class="t" style="left:507px;top:930px;font-size:9.8px;line-height:10px;color:#000;letter-spacing:-0.210px;">17 Jan 2021</div><div class="t" style="left:571px;top:930px;font-size:9.8px;line-height:10px;color:#000;letter-spacing:-0.210px;">26 Jan 2021</div><div class="t" style="left:635px;top:930px;font-size:9.8px;line-height:10px;color:#000;letter-spacing:-0.212px;">4 Feb 2021</div><div class="t" style="left:699px;top:930px;font-size:9.8px;line-height:10px;color:#000;letter-spacing:-0.214px;">14 Feb 2021</div><div class="t" style="left:763px;top:930px;font-size:9.8px;line-height:10px;color:#000;letter-spacing:-0.214px;">23 Feb 2021</div><div class="t" style="left:827px;top:930px;font-size:9.8px;line-height:10px;color:#000;letter-spacing:-0.212px;">4 Mar 2021</div><div class="t" style="left:891px;top:930px;font-size:9.8px;line-height:10px;color:#000;letter-spacing:-0.214px;">14 Mar 2021</div><div class="t" style="left:955px;top:930px;font-size:9.8px;line-height:10px;color:#000;letter-spacing:-0.214px;">23 Mar 2021</div><div class="t" style="left:1019px;top:930px;font-size:9.8px;line-height:10px;color:#000;letter-spacing:-0.203px;">1 Apr 2021</div><div class="t" style="left:1083px;top:930px;font-size:9.8px;line-height:10px;color:#000;letter-spacing:-0.203px;">11 Apr 2021</div><div class="t" style="left:1147px;top:930px;font-size:9.8px;line-height:10px;color:#000;letter-spacing:-0.206px;">20 Apr 2021</div><div class="t" style="left:1211px;top:930px;font-size:9.8px;line-height:10px;color:#000;letter-spacing:-0.206px;">29 Apr 2021</div><div class="t" style="left:1275px;top:930px;font-size:9.8px;line-height:10px;color:#000;letter-spacing:-0.219px;">9 May 2021</div><div class="t" style="left:1339px;top:930px;font-size:9.8px;line-height:10px;color:#000;letter-spacing:-0.220px;">18 May 2021</div><div class="t" style="left:1403px;top:930px;font-size:9.8px;line-height:10px;color:#000;letter-spacing:-0.220px;">27 May 2021</div>
<div class="abs" style="left:0px;top:43px;width:51px;height:25px;box-sizing:border-box;background:linear-gradient(#fb5252 0px,#ee4040 10px,#e03030 23px,#d92a2a 25px,#cc1c1c 38px,#c01010 48px,#b20000 57px);background-size:100% 57px;background-position:0 0px;background-repeat:no-repeat;background-origin:border-box;border-style:solid;border-color:#b40000;border-width:1px 1px 0 0"></div><div class="abs" style="left:166px;top:43px;width:52px;height:25px;box-sizing:border-box;background:linear-gradient(#fb5252 0px,#ee4040 10px,#e03030 23px,#d92a2a 25px,#cc1c1c 38px,#c01010 48px,#b20000 57px);background-size:100% 57px;background-position:0 0px;background-repeat:no-repeat;background-origin:border-box;border-style:solid;border-color:#b40000;border-width:1px 1px 0 1px"></div><div class="abs" style="left:0px;top:67px;width:108px;height:33px;box-sizing:border-box;background:linear-gradient(#fb5252 0px,#ee4040 10px,#e03030 23px,#d92a2a 25px,#cc1c1c 38px,#c01010 48px,#b20000 57px);background-size:100% 57px;background-position:0 -24px;background-repeat:no-repeat;background-origin:border-box;border-style:solid;border-color:#b40000;border-width:1px 1px 1px 0"></div><div class="abs" style="left:110px;top:67px;width:108px;height:33px;box-sizing:border-box;background:linear-gradient(#fb5252 0px,#ee4040 10px,#e03030 23px,#d92a2a 25px,#cc1c1c 38px,#c01010 48px,#b20000 57px);background-size:100% 57px;background-position:0 -24px;background-repeat:no-repeat;background-origin:border-box;border-style:solid;border-color:#b40000;border-width:1px 1px 1px 1px"></div><div class="abs" style="left:0px;top:66px;width:50px;height:2px;background:#de2e2e"></div><div class="abs" style="left:167px;top:66px;width:50px;height:2px;background:#de2e2e"></div><div class="abs" style="left:3px;top:66px;width:44px;height:1px;background:#b00000"></div><div class="abs" style="left:3px;top:67px;width:44px;height:1px;background:#f4a0a0"></div><div class="abs" style="left:170px;top:66px;width:44px;height:1px;background:#b00000"></div><div class="abs" style="left:170px;top:67px;width:44px;height:1px;background:#f4a0a0"></div><div class="abs" style="left:53px;top:43px;width:113px;height:22px;box-sizing:border-box;background:#fff;border:1px solid #a7aebb"></div><div class="abs" style="left:55px;top:45px;width:18px;height:18px;background:linear-gradient(#f3f3f3 0,#e8e8e8 34%,#dadada 36%,#cfcfcf 100%)"></div><div class="abs" style="left:74px;top:44px;width:1px;height:20px;background:#a7aebb"></div><div class="abs" style="left:144px;top:45px;width:19px;height:18px;background:linear-gradient(#f3f3f3 0,#e8e8e8 34%,#dadada 36%,#cfcfcf 100%)"></div><div class="abs" style="left:142px;top:44px;width:1px;height:20px;background:#a7aebb"></div><svg class="abs" style="left:0;top:0" width="230" height="110"><path d="M60.500 52h6l-3 3.500z" fill="#4a60c8"/><path d="M150 55.500h6l-3 -3.500z" fill="#4a60c8"/></svg><div class="t" style="left:100px;top:47px;width:38.500px;text-align:right;font-size:12px;line-height:14px;color:#000;letter-spacing:-0.2px">1.00</div><div class="t" style="left:11px;top:48px;font-size:12px;line-height:14px;color:#fff;letter-spacing:-1px">SELL</div><div class="t" style="left:179.500px;top:48px;font-size:12px;line-height:14px;color:#fff;letter-spacing:-0.5px">BUY</div><div class="t" style="left:15.500px;top:84px;font-size:12px;line-height:14px;color:#fff;font-weight:bold">29006</div><div class="t" style="left:125.500px;top:84px;font-size:12px;line-height:14px;color:#fff;font-weight:bold">29029</div><div class="abs" style="left:55px;top:92px;width:3px;height:3px;background:#fff"></div><div class="abs" style="left:166px;top:92px;width:3px;height:3px;background:#fff"></div><div class="t" style="left:60px;top:65px;font-size:34px;line-height:36px;color:#fff;font-family:'Liberation Serif',serif">0</div><div class="t" style="left:171px;top:65px;font-size:34px;line-height:36px;color:#fff;font-family:'Liberation Serif',serif">0</div>
<div class="abs" style="left:0;top:0;width:1730px;height:19px;background:#f0f0f0"></div><div class="abs" style="left:0;top:19px;width:1730px;height:1px;background:#a0a0a0"></div><div class="abs" style="left:0;top:20px;width:1730px;height:1px;background:#696969"></div><svg class="abs" width="1730" height="21" viewBox="0 0 1730 21" shape-rendering="crispEdges" style="overflow:hidden"><defs><linearGradient id="gbook" x1="0" y1="0" x2="1" y2="1"><stop offset="0" stop-color="#d8a018"/><stop offset="0.45" stop-color="#f8dc58"/><stop offset="1" stop-color="#c8900c"/></linearGradient><linearGradient id="gblue" x1="0" y1="0" x2="1" y2="0"><stop offset="0" stop-color="#1e9cff"/><stop offset="1" stop-color="#0a6ce0"/></linearGradient><linearGradient id="gcloud" x1="0" y1="0" x2="0" y2="1"><stop offset="0" stop-color="#ffffff"/><stop offset="1" stop-color="#c8d4ea"/></linearGradient><linearGradient id="gyel" x1="0" y1="0" x2="1" y2="0"><stop offset="0" stop-color="#f8e060"/><stop offset="1" stop-color="#e8b418"/></linearGradient></defs><rect x="319" y="0" width="24" height="18" fill="#f9f9f9"/><rect x="318" y="0" width="1" height="17" fill="#a0a0a0"/><rect x="471" y="0" width="25" height="18" fill="#f9f9f9"/><rect x="470" y="0" width="1" height="17" fill="#a0a0a0"/><rect x="499" y="0" width="25" height="18" fill="#f9f9f9"/><rect x="498" y="0" width="1" height="17" fill="#a0a0a0"/><rect x="659" y="0" width="24" height="18" fill="#f9f9f9"/><rect x="658" y="0" width="1" height="17" fill="#a0a0a0"/><rect x="1133" y="0" width="25" height="18" fill="#f9f9f9"/><rect x="1132" y="0" width="1" height="17" fill="#a0a0a0"/><rect x="44" y="0" width="1" height="17" fill="#a0a0a0"/><rect x="375" y="0" width="1" height="17" fill="#a0a0a0"/><rect x="465" y="0" width="1" height="17" fill="#a0a0a0"/><rect x="527" y="0" width="1" height="17" fill="#a0a0a0"/><rect x="715" y="0" width="1" height="17" fill="#a0a0a0"/><rect x="280" y="0" width="1" height="19" fill="#a0a0a0"/><rect x="281" y="0" width="1" height="19" fill="#fff"/><rect x="648" y="0" width="1" height="19" fill="#a0a0a0"/><rect x="649" y="0" width="1" height="19" fill="#fff"/><rect x="954" y="0" width="1" height="19" fill="#a0a0a0"/><rect x="955" y="0" width="1" height="19" fill="#fff"/><rect x="1215" y="0" width="1" height="19" fill="#a0a0a0"/><rect x="1216" y="0" width="1" height="19" fill="#fff"/><rect x="284" y="1" width="3" height="1" fill="#909090"/><rect x="284" y="3" width="3" height="1" fill="#909090"/><rect x="284" y="5" width="3" height="1" fill="#909090"/><rect x="284" y="7" width="3" height="1" fill="#909090"/><rect x="284" y="9" width="3" height="1" fill="#909090"/><rect x="284" y="11" width="3" height="1" fill="#909090"/><rect x="284" y="13" width="3" height="1" fill="#909090"/><rect x="284" y="15" width="3" height="1" fill="#909090"/><rect x="652" y="1" width="3" height="1" fill="#909090"/><rect x="652" y="3" width="3" height="1" fill="#909090"/><rect x="652" y="5" width="3" height="1" fill="#909090"/><rect x="652" y="7" width="3" height="1" fill="#909090"/><rect x="652" y="9" width="3" height="1" fill="#909090"/><rect x="652" y="11" width="3" height="1" fill="#909090"/><rect x="652" y="13" width="3" height="1" fill="#909090"/><rect x="652" y="15" width="3" height="1" fill="#909090"/><rect x="958" y="1" width="3" height="1" fill="#909090"/><rect x="958" y="3" width="3" height="1" fill="#909090"/><rect x="958" y="5" width="3" height="1" fill="#909090"/><rect x="958" y="7" width="3" height="1" fill="#909090"/><rect x="958" y="9" width="3" height="1" fill="#909090"/><rect x="958" y="11" width="3" height="1" fill="#909090"/><rect x="958" y="13" width="3" height="1" fill="#909090"/><rect x="958" y="15" width="3" height="1" fill="#909090"/><rect x="-8" y="-3" width="14" height="16" fill="#fff" stroke="#3a6fd8" stroke-width="1.5"/><rect x="0" y="5" width="3" height="1" fill="#000"/><rect x="0" y="9" width="5" height="1" fill="#9ab8ee"/><rect x="20" y="-1" width="11" height="13.500" fill="#f6f6f6" stroke="#b4b4b4"/><path d="M22.500 1v7M28.500 1v7M22.500 4.500h6" stroke="#707070" fill="none"/><g shape-rendering="auto"><line x1="31.300" y1="12.300" x2="36" y2="15.800" stroke="#c89a18" stroke-width="2.600"/><circle cx="27.300" cy="8.200" r="4.900" fill="#d2e2f6" fill-opacity="0.8" stroke="#86ace6" stroke-width="1.300"/></g><path d="M54.5 -1V12.5H65.5V2.5L62.5 -1Z" fill="#fff" stroke="#808080"/><path d="M56 3h5M56 6h5M56 9h3" stroke="#909090"/><path d="M62 5.500h4v4h4v4h-4v4h-4v-4h-4v-4h4z" fill="#2fd02f" stroke="#0a8a0a" stroke-width="1"/><g shape-rendering="auto"><path d="M125.800 -1L137 8.300L128.700 15L121 9.500Z" fill="url(#gbook)" stroke="#a8740c" stroke-width="0.8"/><path d="M128.700 15L137 8.300L137 9.800L129 16.200L121 10.800L121 9.500Z" fill="#8a5a10"/><path d="M129.200 14L135.500 9" stroke="#e8d8a0" stroke-width="0.7"/></g><g shape-rendering="auto"><path d="M151.600 -1H162V9H151.600Z" fill="url(#gblue)"/><path d="M153 -1L155 1.500V9" stroke="#8cc8ff" stroke-width="0.8" fill="none"/><rect x="155.800" y="3.200" width="5.500" height="2.400" fill="#d8ecff"/><path d="M151.200 15a2.800 2.800 0 0 1 -0.400-5.500a3.600 3.600 0 0 1 6.600-1.600a3.200 3.200 0 0 1 5.400 2a2.600 2.600 0 0 1 -0.400 5.100z" fill="url(#gcloud)" stroke="#5a78b0" stroke-width="0.9"/></g><g shape-rendering="auto" fill="none"><path d="M184.900 6.700L184.900 14.300A7.600 7.600 0 0 0 192.300 8.500Z" fill="#7cc47c" fill-opacity="0.55" stroke="none"/><circle cx="184.900" cy="6.700" r="7.300" stroke="#9db8e6" stroke-width="1"/><circle cx="184.900" cy="6.700" r="4.800" stroke="#6f96dc" stroke-width="1.1"/><path d="M184.900 -0.600A7.300 7.300 0 0 1 189.500 12.400" stroke="#9ad09a" stroke-width="1.1"/><path d="M184.900 1.900A4.800 4.800 0 0 1 188.500 10" stroke="#74bc74" stroke-width="1.100"/><circle cx="184.900" cy="6.700" r="2.100" fill="#2a5ccc" stroke="none"/><rect x="184.300" y="7" width="1.800" height="7.600" fill="#2ea02e" stroke="none"/></g><g shape-rendering="auto"><path d="M205.500 5L212.300 15.500L219.500 5Z" fill="url(#gyel)" stroke="#c8a018" stroke-width="0.6"/><ellipse cx="212" cy="3.700" rx="8" ry="2.500" fill="#4a9ede"/><path d="M208.600 3.500C209 1 210 -1 210.500 -2H213C213.500 -1 214.500 1 215 3.500Z" fill="#6ab4ea"/><ellipse cx="212" cy="4.600" rx="5" ry="1.200" fill="#2f7fc4"/><circle cx="216.400" cy="10.800" r="4" fill="#e01818"/><circle cx="216.400" cy="10.800" r="4" fill="none" stroke="#b00000" stroke-width="0.5"/><rect x="215" y="9.400" width="2.800" height="2.800" fill="#fff"/></g><path d="M298.5 1V15M296 12.500H310" stroke="#505050" fill="none"/><path d="M297 2.500h3M308.500 11v3" stroke="#505050" fill="none"/><path d="M304.500 2V10M302 8.500h2.500M304.500 3.500h2.500" stroke="#2aa02a" stroke-width="1.4" fill="none"/><path d="M326.5 1V15M324 12.500H338" stroke="#505050" fill="none"/><path d="M325 2.500h3M336.500 11v3" stroke="#505050" fill="none"/><rect x="332" y="0" width="1" height="11" fill="#208020"/><rect x="330.500" y="1.500" width="4" height="6" fill="#3ad03a" stroke="#208020"/><path d="M354.5 1V15M352 12.500H366" stroke="#505050" fill="none"/><path d="M353 2.500h3M364.500 11v3" stroke="#505050" fill="none"/><path d="M355 10C358 6 360 3 362 3.500S365 7 367 8.500" stroke="#2aa02a" stroke-width="1.4" fill="none" shape-rendering="auto"/><line x1="394.500" y1="8.500" x2="400" y2="14" stroke="#d8a820" stroke-width="2.400" shape-rendering="auto"/><circle cx="391" cy="5" r="5" fill="#d9e8fb" stroke="#3a7ad8" stroke-width="1.400" shape-rendering="auto"/><rect x="388" y="4.200" width="6" height="1.600" fill="#3a6fd0"/><rect x="390.200" y="2" width="1.600" height="6" fill="#3a6fd0"/><line x1="422.500" y1="8.500" x2="428" y2="14" stroke="#d8a820" stroke-width="2.400" shape-rendering="auto"/><circle cx="419" cy="5" r="5" fill="#d9e8fb" stroke="#3a7ad8" stroke-width="1.400" shape-rendering="auto"/><rect x="416" y="4.200" width="6" height="1.600" fill="#3a6fd0"/><rect x="440" y="-1" width="8" height="7.500" fill="#5cb82c"/><rect x="441.500" y="2" width="5" height="3" fill="#fff" fill-opacity="0.9"/><rect x="442.500" y="3" width="3" height="2" fill="#5cb82c" fill-opacity="0.35"/><rect x="449" y="-1" width="8" height="7.500" fill="#2c5cd8"/><rect x="450.500" y="2" width="5" height="3" fill="#fff" fill-opacity="0.9"/><rect x="451.500" y="3" width="3" height="2" fill="#2c5cd8" fill-opacity="0.35"/><rect x="440" y="7" width="8" height="7.500" fill="#2c5cd8"/><rect x="441.500" y="10" width="5" height="3" fill="#fff" fill-opacity="0.9"/><rect x="442.500" y="11" width="3" height="2" fill="#2c5cd8" fill-opacity="0.35"/><rect x="449" y="7" width="8" height="7.500" fill="#5cb82c"/><rect x="450.500" y="10" width="5" height="3" fill="#fff" fill-opacity="0.9"/><rect x="451.500" y="11" width="3" height="2" fill="#5cb82c" fill-opacity="0.35"/><path d="M478.5 1V15M476 12.500H490" stroke="#505050" fill="none"/><path d="M477 2.500h3M488.500 11v3" stroke="#505050" fill="none"/><path d="M483.500 3.500L487.500 6.500L483.500 9.500Z" fill="#3ad03a" stroke="#208020"/><path d="M506.5 1V15M504 12.500H518" stroke="#505050" fill="none"/><path d="M505 2.500h3M516.500 11v3" stroke="#505050" fill="none"/><rect x="512" y="1" width="1" height="10" fill="#2a5ab0"/><path d="M513.500 6.500h4M515.500 4.500L513.500 6.500L515.500 8.500" stroke="#e03010" fill="none"/><path d="M537.5 -1V12.5H548.5V2.5L545.5 -1Z" fill="#fff" stroke="#808080"/><path d="M539 3h5M539 6h5M539 9h3" stroke="#909090"/><path d="M545 5.500h4v4h4v4h-4v4h-4v-4h-4v-4h4z" fill="#2fd02f" stroke="#0a8a0a" stroke-width="1"/><path d="M558.5 6h6l-3 3.500z" fill="#000"/><circle cx="583.400" cy="6.800" r="6.700" fill="#fff" stroke="#2a6ad8" stroke-width="2.400" shape-rendering="auto"/><path d="M583.500 3V7.500H587" stroke="#606060" fill="none"/><path d="M597.5 6h6l-3 3.500z" fill="#000"/><rect x="614.500" y="-0.500" width="15" height="13" fill="#fff" stroke="#3a78d0"/><rect x="615" y="0" width="14" height="2" fill="#6aa0e8"/><rect x="615" y="6" width="14" height="1" fill="#9ab8e8"/><path d="M617 5L620 4L623 4.500L627 3" stroke="#c02010" fill="none" shape-rendering="auto"/><path d="M617 11L620 9.500L623 10.500L625 9L627 10.500" stroke="#20a020" fill="none" shape-rendering="auto"/><path d="M636.5 6h6l-3 3.500z" fill="#000"/><path d="M666 0V12L669 9.500L671.500 14L673.500 13L671.500 8.500H675Z" fill="#505050" shape-rendering="auto"/><path d="M698.500 0V6M698.500 9V15M691 7.500H697M700 7.500H706" stroke="#505050" fill="none"/><rect x="698" y="7" width="1" height="1" fill="#505050"/><rect x="732" y="1" width="1" height="13" fill="#505050"/><rect x="755" y="7" width="12" height="1" fill="#505050"/><line x1="783" y1="14" x2="795.500" y2="1.500" stroke="#505050" stroke-width="1.100" shape-rendering="auto"/><g stroke="#505050" stroke-width="1" shape-rendering="auto" fill="none"><path d="M809 9L822 0M811 13L823 4.500"/><path d="M812 6.500L814 11.500M815 4.500L817 9.500M818 2.500L820 7.500M821 0.500L822.500 5" stroke-width="0.9"/></g><path d="M820.500 11.500V16.500M820.500 12h3M820.500 14h2.500M820.500 16h3" stroke="#303030" fill="none"/><line x1="838" y1="0.5" x2="851" y2="0.5" stroke="#505050" stroke-dasharray="1 1"/><line x1="838" y1="3.5" x2="851" y2="3.5" stroke="#505050" stroke-dasharray="1 1"/><line x1="838" y1="6.5" x2="851" y2="6.5" stroke="#505050" stroke-dasharray="1 1"/><line x1="838" y1="9.5" x2="851" y2="9.5" stroke="#505050" stroke-dasharray="1 1"/><line x1="838" y1="12.5" x2="851" y2="12.5" stroke="#505050" stroke-dasharray="1 1"/><path d="M848.500 11.500V16.500M848.500 12h3M848.500 14h2.500" stroke="#303030" fill="none"/><rect x="846" y="10" width="7" height="2" fill="#f0f0f0"/><path d="M848.500 11.500V16.500M848.500 12h3.500M848.500 14h2.500" stroke="#303030" fill="none"/><rect x="895.500" y="1.500" width="11" height="12" fill="none" stroke="#505050" stroke-dasharray="1 1"/><path d="M897.500 4.500h7M901 4.500V12" stroke="#505050" stroke-width="1.500" fill="none"/><path d="M925.500 0.500L928.500 3.500L925.500 6.500L922.500 3.500Z" fill="#505050"/><path d="M933.500 7.500L936.500 10.500L933.500 13.500L930.500 10.500Z" fill="#505050"/><path d="M924 6.500L927 10L931.500 4" stroke="#505050" stroke-width="1.300" fill="none" shape-rendering="auto"/><path d="M942.5 6h6l-3 3.500z" fill="#000"/><line x1="1683.500" y1="7.500" x2="1678.500" y2="12" stroke="#2a5ad0" stroke-width="2" shape-rendering="auto"/><circle cx="1686.300" cy="4.400" r="3.700" fill="#f8fbff" stroke="#2a5ad0" stroke-width="1.300" shape-rendering="auto"/><path d="M1703 9a5 4 0 0 1 12 0a5 4 0 0 1-7 3.500l-2.500 2.500v-3a5 4 0 0 1-2.500-3z" fill="#e6e6e6" stroke="#c0c0c0" stroke-width="0.8" shape-rendering="auto"/><circle cx="1716.500" cy="4.500" r="8" fill="#dd3a1e" shape-rendering="auto"/><text x="72.500" y="10.600" font-size="13" letter-spacing="-1" fill="#000" stroke="#000" stroke-width="0.280" font-family="'Liberation Sans','Noto Sans CJK SC',sans-serif" shape-rendering="auto">新订单</text><text x="225" y="10.600" font-size="13" letter-spacing="-1.200" fill="#000" stroke="#000" stroke-width="0.280" font-family="'Liberation Sans','Noto Sans CJK SC',sans-serif" shape-rendering="auto">自动交易</text></svg><div class="t" style="left:868px;top:0px;font-size:13px;line-height:15px;color:#505050">A</div><div class="t" style="left:969.5px;top:4px;font-size:9.8px;line-height:10px;letter-spacing:-0.607px;color:#404040">M1</div><div class="t" style="left:997.5px;top:4px;font-size:9.8px;line-height:10px;letter-spacing:-0.607px;color:#404040">M5</div><div class="t" style="left:1023.5px;top:4px;font-size:9.8px;line-height:10px;letter-spacing:-0.455px;color:#404040">M15</div><div class="t" style="left:1051.5px;top:4px;font-size:9.8px;line-height:10px;letter-spacing:-0.455px;color:#404040">M30</div><div class="t" style="left:1082.5px;top:4px;font-size:9.8px;line-height:10px;letter-spacing:-0.464px;color:#404040">H1</div><div class="t" style="left:1109.5px;top:4px;font-size:9.8px;line-height:10px;letter-spacing:-0.014px;color:#404040">H4</div><div class="t" style="left:1138.5px;top:4px;font-size:9.8px;line-height:10px;letter-spacing:-0.314px;color:#404040">D1</div><div class="t" style="left:1166px;top:4px;font-size:9.8px;line-height:10px;letter-spacing:-0.150px;color:#404040">W1</div><div class="t" style="left:1192.5px;top:4px;font-size:9.8px;line-height:10px;letter-spacing:-0.320px;color:#404040">MN</div><div class="t" style="left:1711.500px;top:-4px;width:10px;text-align:center;font-size:15px;line-height:16px;color:#fff;font-family:'Liberation Serif',serif">1</div>
<div class="abs" style="left:1728px;top:21px;width:1px;height:922px;background:#f4f4f4"></div><div class="abs" style="left:1729px;top:21px;width:1px;height:922px;background:#dcdcdc"></div>
</body></html>
